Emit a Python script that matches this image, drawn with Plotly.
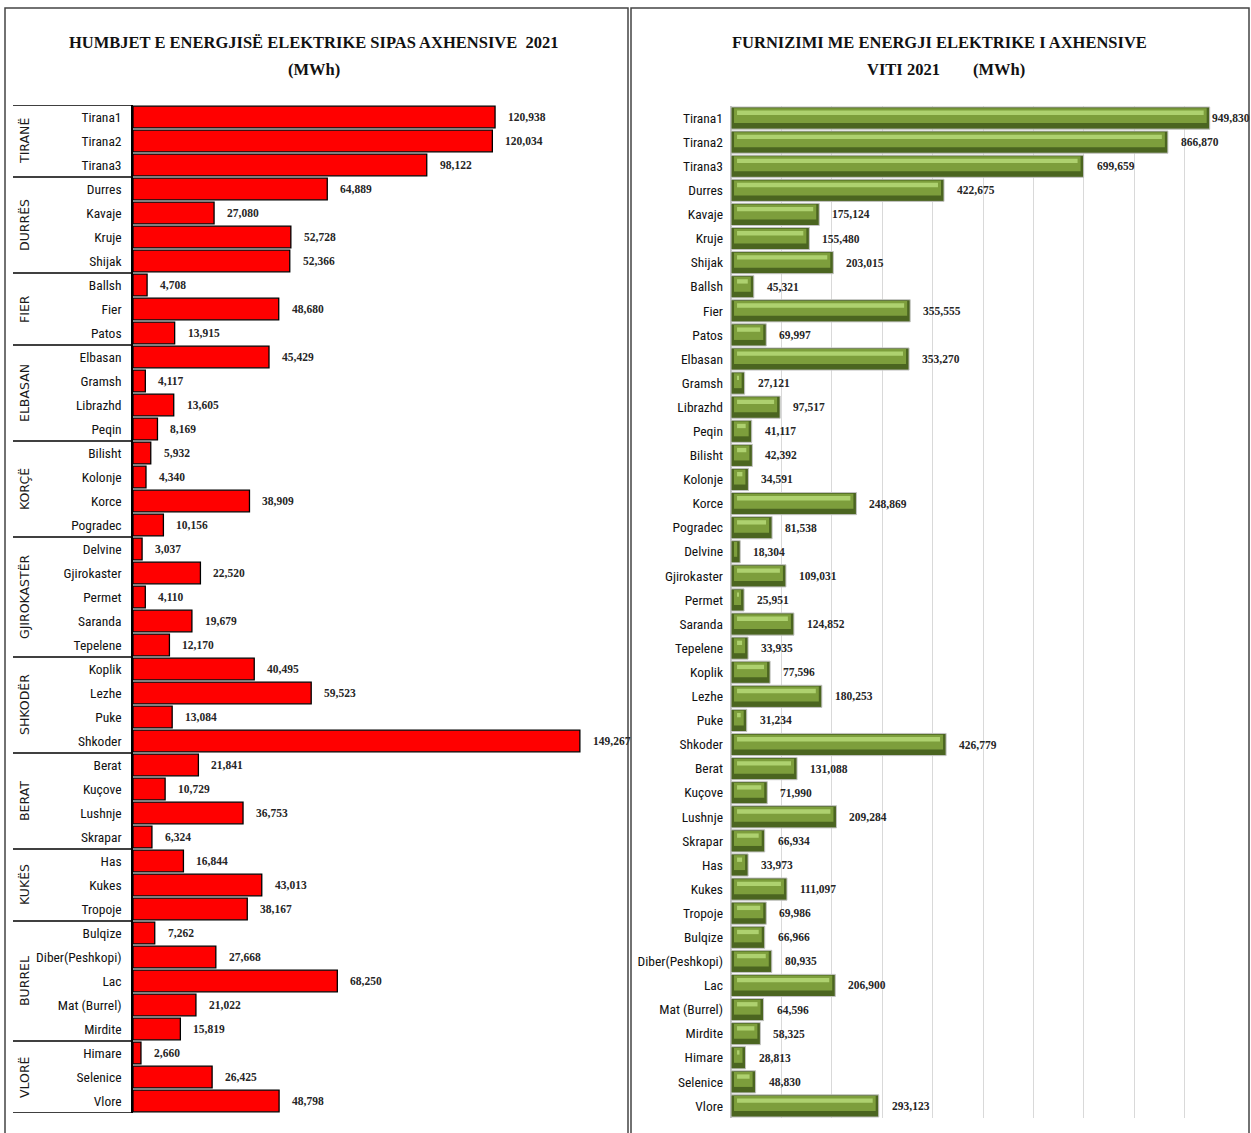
import plotly.graph_objects as go

W, H = 1251, 1133

# ---------------- data ----------------
groups = ["TIRANË", "DURRËS", "FIER", "ELBASAN", "KORÇË", "GJIROKASTËR",
          "SHKODËR", "BERAT", "KUKËS", "BURREL", "VLORË"]
group_sizes = [3, 4, 3, 4, 4, 5, 4, 4, 3, 5, 3]

districts = ["Tirana1", "Tirana2", "Tirana3",
             "Durres", "Kavaje", "Kruje", "Shijak",
             "Ballsh", "Fier", "Patos",
             "Elbasan", "Gramsh", "Librazhd", "Peqin",
             "Bilisht", "Kolonje", "Korce", "Pogradec",
             "Delvine", "Gjirokaster", "Permet", "Saranda", "Tepelene",
             "Koplik", "Lezhe", "Puke", "Shkoder",
             "Berat", "Kuçove", "Lushnje", "Skrapar",
             "Has", "Kukes", "Tropoje",
             "Bulqize", "Diber(Peshkopi)", "Lac", "Mat (Burrel)", "Mirdite",
             "Himare", "Selenice", "Vlore"]

losses = [120938, 120034, 98122,
          64889, 27080, 52728, 52366,
          4708, 48680, 13915,
          45429, 4117, 13605, 8169,
          5932, 4340, 38909, 10156,
          3037, 22520, 4110, 19679, 12170,
          40495, 59523, 13084, 149267,
          21841, 10729, 36753, 6324,
          16844, 43013, 38167,
          7262, 27668, 68250, 21022, 15819,
          2660, 26425, 48798]

supply = [949830, 866870, 699659,
          422675, 175124, 155480, 203015,
          45321, 355555, 69997,
          353270, 27121, 97517, 41117,
          42392, 34591, 248869, 81538,
          18304, 109031, 25951, 124852, 33935,
          77596, 180253, 31234, 426779,
          131088, 71990, 209284, 66934,
          33973, 111097, 69986,
          66966, 80935, 206900, 64596, 58325,
          28813, 48830, 293123]

title_left = ["HUMBJET E ENERGJISË ELEKTRIKE SIPAS AXHENSIVE  2021", "(MWh)"]
title_right = ["FURNIZIMI ME ENERGJI ELEKTRIKE I AXHENSIVE",
               "VITI 2021" + "\u00a0" * 8 + "(MWh)"]

# ---------------- layout helpers ----------------
idx = list(range(len(districts)))
n = len(districts)

def px_x(p):
    return p / W

def px_y(p):
    return 1 - p / H

L_X0, L_X1 = 133, 612
L_Y0, L_Y1 = 105, 1113
R_X0, R_X1 = 731, 1235
R_Y0, R_Y1 = 106, 1118
L_MAX = 160000
R_MAX = 1000000

cat_font = dict(family="Liberation Sans Narrow, Arial Narrow, Roboto Condensed, sans-serif",
                size=13.5, color="#111111")
val_font = dict(family="Liberation Serif, Times New Roman, serif", size=11.5, color="#262626")
title_font = dict(family="Liberation Serif, Times New Roman, serif", size=16.5, color="#111111")

fig = go.Figure()

# left: losses
fig.add_trace(go.Bar(
    x=losses, y=idx, orientation="h", xaxis="x", yaxis="y", width=0.9,
    marker=dict(color="#ff0000", line=dict(color="#000000", width=1.3)),
    hoverinfo="x+y", showlegend=False))

# right: supply, layered to imitate bevelled bars
bevel = 6000
fig.add_trace(go.Bar(
    x=supply, y=idx, orientation="h", xaxis="x2", yaxis="y2", width=0.92,
    marker=dict(color="#4b6520", line=dict(color="#c4c4c4", width=1)),
    showlegend=False))
fig.add_trace(go.Bar(
    x=[max(v - 2 * bevel, 0) for v in supply], base=bevel, y=idx, orientation="h",
    xaxis="x2", yaxis="y2", width=0.62, offset=-0.41,
    marker=dict(color="#7d9e3c", line=dict(width=0)),
    hoverinfo="skip", showlegend=False))
fig.add_trace(go.Bar(
    x=[max(v - 4 * bevel, 0) for v in supply], base=2 * bevel, y=idx, orientation="h",
    xaxis="x2", yaxis="y2", width=0.18, offset=-0.31,
    marker=dict(color="#aed16f", line=dict(width=0)),
    hoverinfo="skip", showlegend=False))

annotations = []
# value labels
for i, v in enumerate(losses):
    annotations.append(dict(x=v, y=i, xref="x", yref="y", text=f"<b>{v:,}</b>",
                            xanchor="left", yanchor="middle", xshift=11,
                            showarrow=False, font=val_font))
for i, v in enumerate(supply):
    end_px = R_X0 + v / R_MAX * (R_X1 - R_X0)
    shift = 11 if end_px + 11 + 40 < 1249 else 0
    annotations.append(dict(x=v, y=i, xref="x2", yref="y2", text=f"<b>{v:,}</b>",
                            xanchor="left", yanchor="middle", xshift=shift,
                            showarrow=False, font=val_font))

# group labels + separators
shapes = []
start = 0
bounds = [0]
for g, s in zip(groups, group_sizes):
    center = start + (s - 1) / 2
    annotations.append(dict(x=px_x(24), y=center, xref="paper", yref="y", text=g,
                            textangle=-90, showarrow=False, xanchor="center",
                            yanchor="middle",
                            font=dict(family="DejaVu Sans, Verdana, sans-serif",
                                      size=12.5, color="#1a1a1a")))
    start += s
    bounds.append(start)
for b in bounds:
    shapes.append(dict(type="line", xref="paper", yref="y", x0=px_x(13), x1=px_x(L_X0),
                       y0=b - 0.5, y1=b - 0.5, line=dict(color="#000000", width=1.5)))

# titles
annotations += [
    dict(x=px_x(314), y=px_y(42), xref="paper", yref="paper", text="<b>%s</b>" % title_left[0],
         showarrow=False, xanchor="center", yanchor="middle", font=title_font),
    dict(x=px_x(314), y=px_y(69), xref="paper", yref="paper", text="<b>%s</b>" % title_left[1],
         showarrow=False, xanchor="center", yanchor="middle", font=title_font),
    dict(x=px_x(940), y=px_y(42), xref="paper", yref="paper", text="<b>%s</b>" % title_right[0],
         showarrow=False, xanchor="center", yanchor="middle", font=title_font),
    dict(x=px_x(946), y=px_y(69), xref="paper", yref="paper", text="<b>%s</b>" % title_right[1],
         showarrow=False, xanchor="center", yanchor="middle", font=title_font),
]

# panel borders
shapes += [
    dict(type="rect", xref="paper", yref="paper", x0=px_x(5), x1=px_x(628),
         y0=px_y(1150), y1=px_y(8), line=dict(color="#444444", width=1.5)),
    dict(type="rect", xref="paper", yref="paper", x0=px_x(631), x1=px_x(1249),
         y0=px_y(1150), y1=px_y(8), line=dict(color="#444444", width=1.5)),
]

fig.update_layout(
    width=W, height=H, margin=dict(l=0, r=0, t=0, b=0),
    paper_bgcolor="white", plot_bgcolor="white",
    barmode="overlay", showlegend=False,
    xaxis=dict(domain=[px_x(L_X0), px_x(L_X1)], range=[0, L_MAX], visible=False,
               anchor="y", fixedrange=True),
    yaxis=dict(domain=[px_y(L_Y1), px_y(L_Y0)], range=[n - 0.5, -0.5], anchor="x",
               tickmode="array", tickvals=idx, ticktext=districts, tickfont=cat_font,
               showline=True, linecolor="#000000", linewidth=1.5, showgrid=False,
               zeroline=False, ticks="", ticklabelstandoff=7, fixedrange=True),
    xaxis2=dict(domain=[px_x(R_X0), px_x(R_X1)], range=[0, R_MAX], anchor="y2",
                showticklabels=False, showgrid=True, gridcolor="#d9d9d9", gridwidth=1,
                dtick=100000, tick0=0, zeroline=True, zerolinecolor="#bfbfbf",
                showline=False, ticks="", fixedrange=True),
    yaxis2=dict(domain=[px_y(R_Y1), px_y(R_Y0)], range=[n - 0.5, -0.5], anchor="x2",
                tickmode="array", tickvals=idx, ticktext=districts, tickfont=cat_font,
                showline=False, showgrid=False, zeroline=False, ticks="",
                ticklabelstandoff=7, fixedrange=True),
    annotations=annotations, shapes=shapes,
)

fig.write_html("out.html", config={"displayModeBar": False},
               post_script="document.body.style.margin='0';document.body.style.overflow='hidden';")
